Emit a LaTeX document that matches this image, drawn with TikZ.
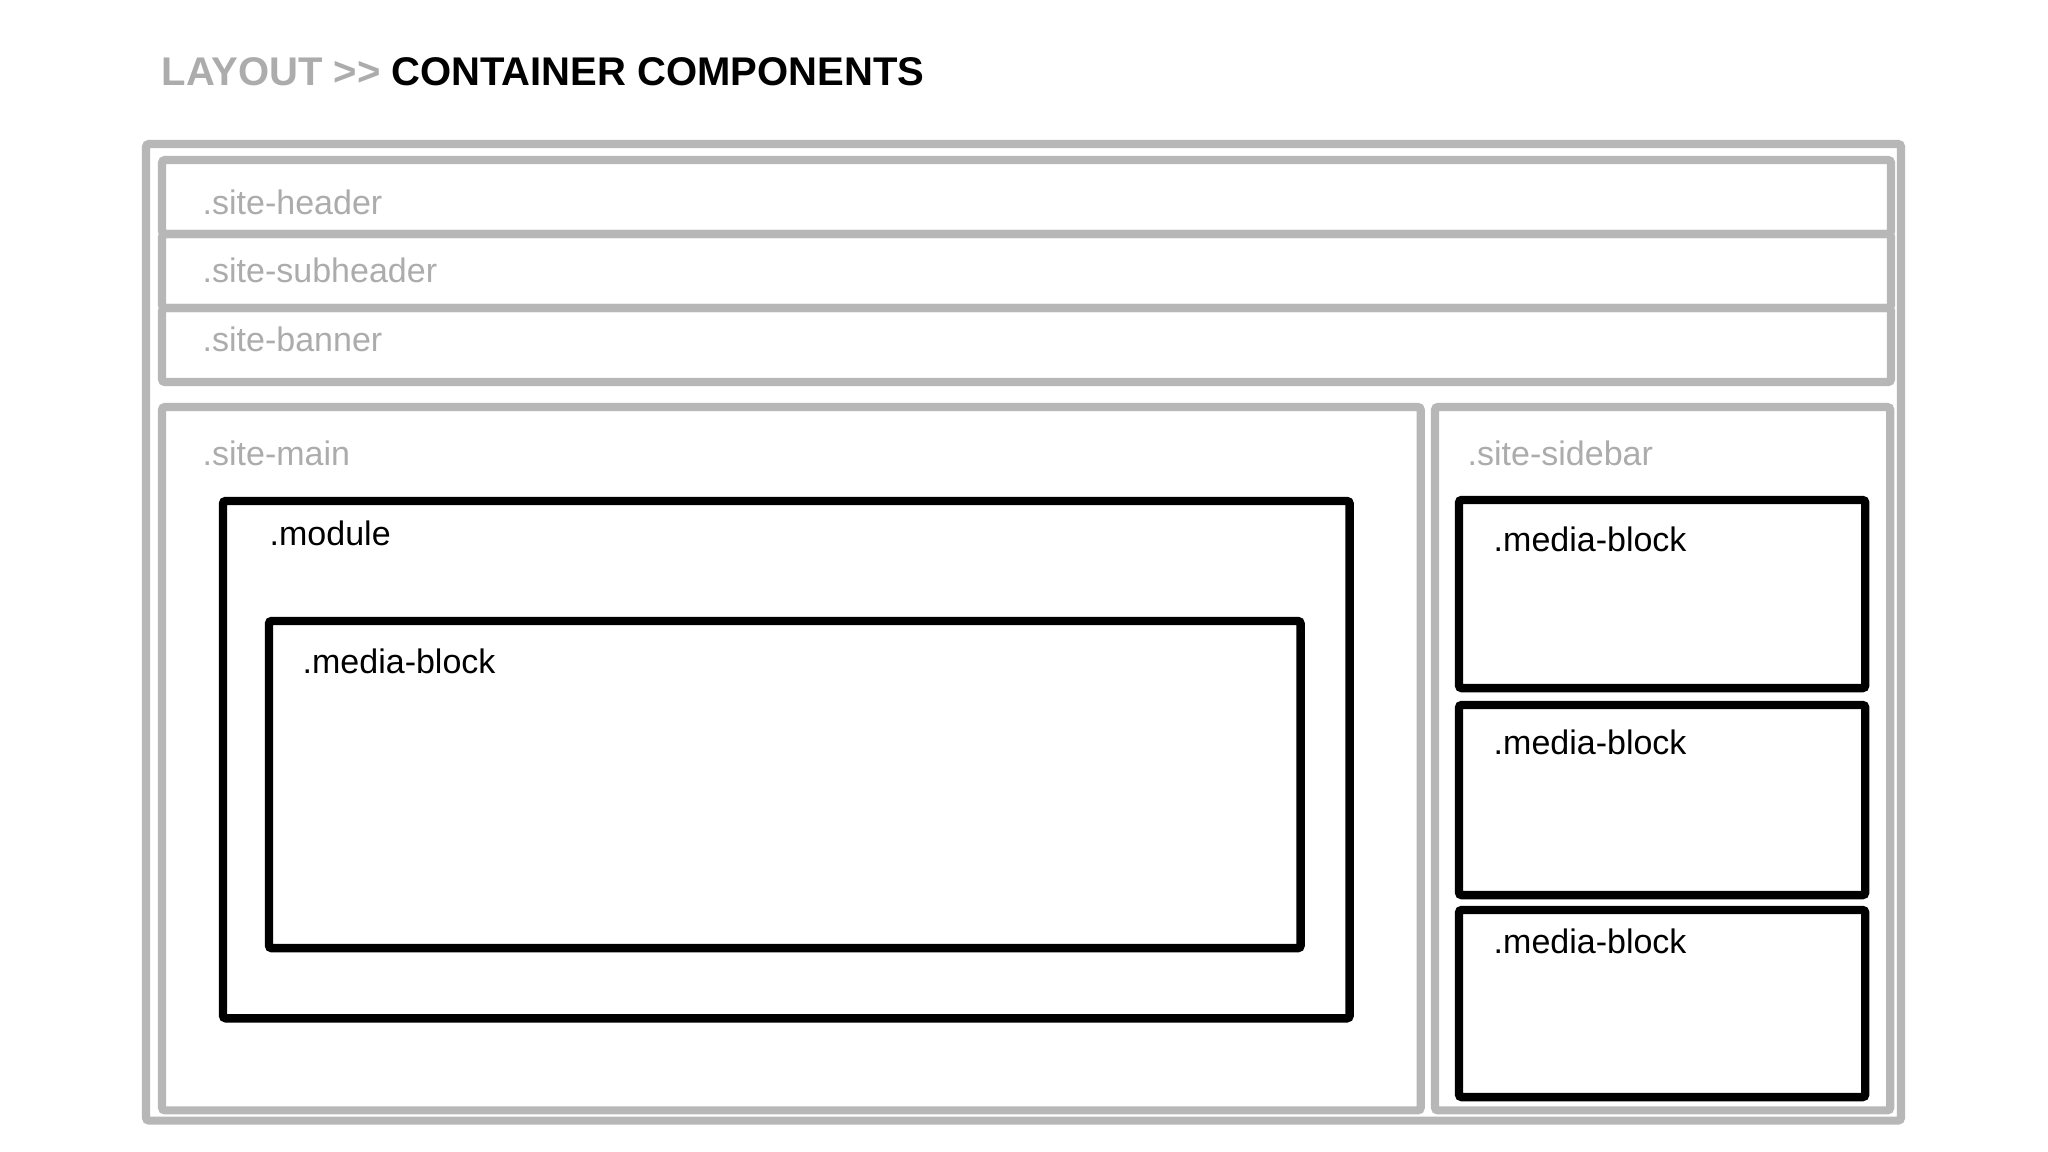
\documentclass[tikz,border=0pt]{standalone}
\usepackage{fontspec}
\setmainfont{Liberation Sans}
\definecolor{boxgray}{RGB}{183,183,183}
\definecolor{txtgray}{RGB}{172,172,172}
\begin{document}
\begin{tikzpicture}[x=0.01cm,y=-0.01cm,
  gbox/.style={draw=boxgray, line width=2.3pt, rounded corners=0.8pt, inner sep=0pt, outer sep=0pt, anchor=north west},
  kbox/.style={draw=black, line width=2.4pt, rounded corners=0.8pt, inner sep=0pt, outer sep=0pt, anchor=north west},
  glabel/.style={anchor=base west, inner sep=0pt, text=txtgray, font=\fontsize{9.67pt}{11pt}\selectfont},
  klabel/.style={anchor=base west, inner sep=0pt, text=black, font=\fontsize{9.67pt}{11pt}\selectfont},
  ttl/.style={anchor=base west, inner sep=0pt, font=\bfseries\fontsize{11.38pt}{13pt}\selectfont}]
\fill[white] (0,0) rectangle (2048,1152);
\useasboundingbox (0,0) rectangle (2048,1152);
% title
\node[ttl] (title) at (161,86) {\textcolor{txtgray}{LAYOUT {>}{>}} CONTAINER COMPONENTS};
% outer frame
\node[gbox, minimum width=17.54cm, minimum height=9.76cm] (outer) at (146,144) {};
% header group
\node[gbox, minimum width=17.28cm, minimum height=0.74cm] (header) at (162,160) {};
\node[gbox, minimum width=17.28cm, minimum height=0.74cm] (subheader) at (162,234) {};
\node[gbox, minimum width=17.28cm, minimum height=0.74cm] (banner) at (162,308) {};
\node[glabel] (lheader) at (202,215) {.site-header};
\node[glabel] (lsubheader) at (202,283) {.site-subheader};
\node[glabel] (lbanner) at (202,352) {.site-banner};
% main and sidebar
\node[gbox, minimum width=12.58cm, minimum height=7.03cm] (main) at (162,407) {};
\node[gbox, minimum width=4.55cm, minimum height=7.03cm] (sidebar) at (1435,407) {};
\node[glabel] (lmain) at (202,466) {.site-main};
\node[glabel] (lsidebar) at (1467,466) {.site-sidebar};
% module
\node[kbox, minimum width=11.26cm, minimum height=5.17cm] (module) at (223,501) {};
\node[klabel] (lmodule) at (269,546) {.module};
\node[kbox, minimum width=10.31cm, minimum height=3.27cm] (mb) at (269,621) {};
\node[klabel] (lmb) at (302,673) {.media-block};
% sidebar blocks
\node[kbox, minimum width=4.06cm, minimum height=1.88cm] (sb1) at (1459,500) {};
\node[kbox, minimum width=4.06cm, minimum height=1.90cm] (sb2) at (1459,705) {};
\node[kbox, minimum width=4.06cm, minimum height=1.87cm] (sb3) at (1459,910) {};
\node[klabel] (lsb1) at (1493,552) {.media-block};
\node[klabel] (lsb2) at (1493,754) {.media-block};
\node[klabel] (lsb3) at (1493,953) {.media-block};
\end{tikzpicture}
\end{document}
